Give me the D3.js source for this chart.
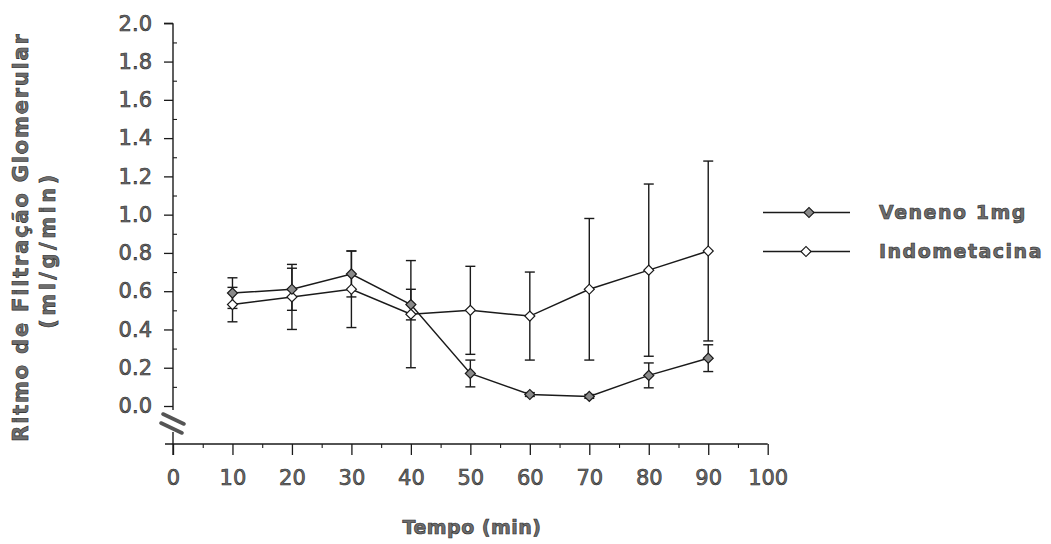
<!DOCTYPE html>
<html><head><meta charset="utf-8">
<script src="https://cdn.jsdelivr.net/npm/d3@7"></script>
<style>
html,body{margin:0;padding:0;background:#fff;}
svg text{font-family:"DejaVu Sans",sans-serif;}
</style></head>
<body><svg id="c" width="1051" height="544"></svg>
<script>
const times = [10,20,30,40,50,60,70,80,90];
const venenoMean = [0.59,0.61,0.69,0.53,0.17,0.06,0.05,0.16,0.25];
const venenoErr  = [0.08,0.11,0.12,0.08,0.07,0.01,0.01,0.065,0.07];
const indoMean   = [0.53,0.57,0.61,0.48,0.50,0.47,0.61,0.71,0.81];
const indoErr    = [0.09,0.17,0.20,0.28,0.23,0.23,0.37,0.45,0.47];
const xTicks = [0,10,20,30,40,50,60,70,80,90,100];
const yTicks = [0,0.2,0.4,0.6,0.8,1.0,1.2,1.4,1.6,1.8,2.0];
const seriesNames = ["Veneno 1mg","Indometacina"];
const yTitle1 = "Ritmo de Filtração Glomerular";
const yTitle2 = "(ml/g/min)";
const xTitle = "Tempo (min)";

const svg = d3.select("#c");
const x = d3.scaleLinear().domain([0,100]).range([173,767.7]);
const y = d3.scaleLinear().domain([0,2]).range([406,23.3]);
const xAxisY = 444;
const ink = "#1a1a1a";
const txtFill = "#6e6e6e", txtStroke = "#262626";

// X axis
const gx = svg.append("g").attr("transform",`translate(0,${xAxisY})`)
  .call(d3.axisBottom(x).tickValues(xTicks).tickSize(11).tickPadding(15).tickFormat(d3.format("d")));
gx.select(".domain").remove();
gx.selectAll(".tick line").attr("stroke",ink).attr("stroke-width",1.3);
gx.selectAll(".tick text").attr("font-size",21).attr("fill",txtFill).attr("stroke",txtStroke).attr("stroke-width",0.6);
const gxm = svg.append("g").attr("transform",`translate(0,${xAxisY})`)
  .call(d3.axisBottom(x).tickValues(d3.range(5,100,10)).tickSize(4).tickFormat(""));
gxm.select(".domain").remove();
gxm.selectAll(".tick line").attr("stroke",ink).attr("stroke-width",1.1);
svg.append("line").attr("x1",x(0)-8).attr("x2",x(100)).attr("y1",xAxisY).attr("y2",xAxisY)
  .attr("stroke",ink).attr("stroke-width",1.4);

// Y axis
const gy = svg.append("g").attr("transform",`translate(${x(0)},0)`)
  .call(d3.axisLeft(y).tickValues(yTicks).tickSize(9).tickPadding(12).tickFormat(d3.format(".1f")));
gy.select(".domain").remove();
gy.selectAll(".tick line").attr("stroke",ink).attr("stroke-width",1.3);
gy.selectAll(".tick text").attr("font-size",21).attr("fill",txtFill).attr("stroke",txtStroke).attr("stroke-width",0.6);
const gym = svg.append("g").attr("transform",`translate(${x(0)},0)`)
  .call(d3.axisLeft(y).tickValues(d3.range(0.1,2,0.2)).tickSize(-4).tickFormat(""));
gym.select(".domain").remove();
gym.selectAll(".tick line").attr("stroke",ink).attr("stroke-width",1.1);
svg.append("line").attr("x1",x(0)).attr("x2",x(0)).attr("y1",y(2)).attr("y2",y(0)+4)
  .attr("stroke",ink).attr("stroke-width",1.4);
svg.append("line").attr("x1",x(0)).attr("x2",x(0)-9).attr("y1",y(2)).attr("y2",y(2))
  .attr("stroke",ink).attr("stroke-width",1.3);
svg.append("line").attr("x1",x(0)).attr("x2",x(0)).attr("y1",y(0)+26).attr("y2",xAxisY+11)
  .attr("stroke",ink).attr("stroke-width",1.4);
// axis break marks
[[0,0],[-2,9]].forEach(([dx,dy])=>{
  svg.append("line").attr("x1",x(0)-10+dx).attr("y1",y(0)+8+dy).attr("x2",x(0)+11+dx).attr("y2",y(0)+18+dy)
    .attr("stroke","#555").attr("stroke-width",3.6).attr("stroke-linecap","round");
});

// Series
const series = [
  {name:seriesNames[1], mean:indoMean, err:indoErr, fill:"#ffffff"},
  {name:seriesNames[0], mean:venenoMean, err:venenoErr, fill:"#8a8a8a"}
];
const line = d3.line().x((d,i)=>x(times[i])).y(d=>y(d));
series.forEach(s=>{
  const g = svg.append("g");
  s.mean.forEach((m,i)=>{
    const cx = x(times[i]);
    g.append("line").attr("x1",cx).attr("x2",cx).attr("y1",y(m+s.err[i])).attr("y2",y(m-s.err[i]))
      .attr("stroke",ink).attr("stroke-width",1.4);
    [m+s.err[i], m-s.err[i]].forEach(v=>{
      g.append("line").attr("x1",cx-5).attr("x2",cx+5).attr("y1",y(v)).attr("y2",y(v))
        .attr("stroke",ink).attr("stroke-width",1.4);
    });
  });
  g.append("path").datum(s.mean).attr("d",line).attr("fill","none").attr("stroke",ink).attr("stroke-width",1.5);
});
series.forEach(s=>{
  svg.append("g").selectAll("path").data(s.mean).join("path")
    .attr("transform",(d,i)=>`translate(${x(times[i])},${y(d)}) rotate(45)`)
    .attr("d",d3.symbol().type(d3.symbolSquare).size(50))
    .attr("fill",s.fill).attr("stroke",ink).attr("stroke-width",1.2);
});

// Legend
const legend = [
  {name:seriesNames[0], fill:"#8a8a8a", y:212.5, mx:809},
  {name:seriesNames[1], fill:"#ffffff", y:251.5, mx:806}
];
legend.forEach(l=>{
  svg.append("line").attr("x1",763).attr("x2",850).attr("y1",l.y).attr("y2",l.y).attr("stroke",ink).attr("stroke-width",1.4);
  svg.append("path").attr("transform",`translate(${l.mx},${l.y}) rotate(45)`)
    .attr("d",d3.symbol().type(d3.symbolSquare).size(50))
    .attr("fill",l.fill).attr("stroke",ink).attr("stroke-width",1.2);
  svg.append("text").attr("x",879).attr("y",l.y).attr("dy","0.36em").attr("font-size",19).attr("font-weight","bold")
    .attr("letter-spacing",1.5)
    .attr("fill",txtFill).attr("stroke",txtStroke).attr("stroke-width",0.6).text(l.name);
});

// Titles
svg.append("text").attr("transform","translate(28,237) rotate(-90)").attr("text-anchor","middle")
  .attr("font-size",21).attr("font-weight","bold").attr("letter-spacing",1.8)
  .attr("fill",txtFill).attr("stroke",txtStroke).attr("stroke-width",0.6).text(yTitle1);
svg.append("text").attr("transform","translate(55,250) rotate(-90)").attr("text-anchor","middle")
  .attr("font-size",21).attr("font-weight","bold").attr("letter-spacing",3.5)
  .attr("fill",txtFill).attr("stroke",txtStroke).attr("stroke-width",0.6).text(yTitle2);
svg.append("text").attr("x",472).attr("y",527).attr("dy","0.36em").attr("text-anchor","middle")
  .attr("font-size",19).attr("font-weight","bold").attr("letter-spacing",0.5)
  .attr("fill",txtFill).attr("stroke",txtStroke).attr("stroke-width",0.6).text(xTitle);
</script></body></html>
